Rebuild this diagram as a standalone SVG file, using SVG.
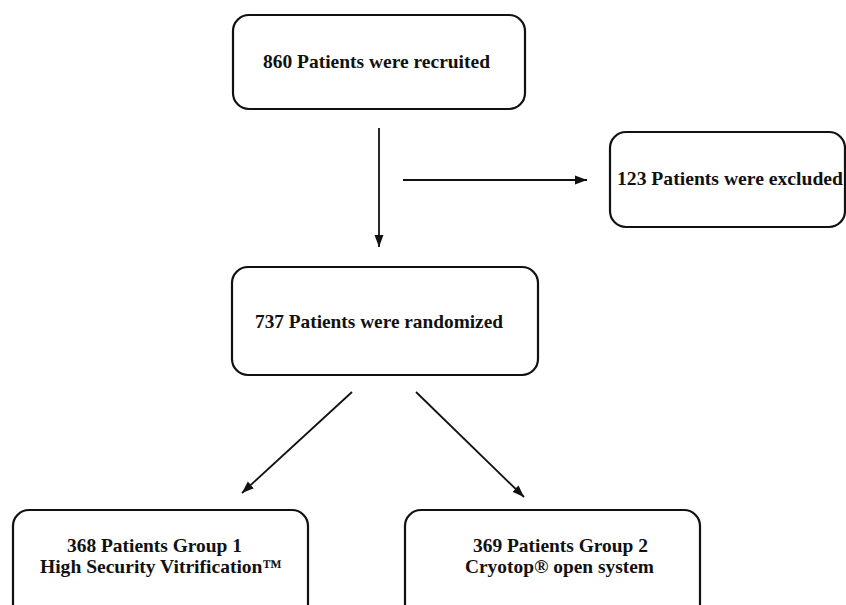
<svg xmlns="http://www.w3.org/2000/svg" width="846" height="605" viewBox="0 0 846 605">
<style>
.box{fill:#fff;stroke:#111;stroke-width:2.2}
.t{font-family:"Liberation Serif","Times New Roman",serif;font-weight:bold;font-size:19.5px;fill:#111}
.c{stroke:#111;stroke-width:1.8;fill:none}
</style>
<defs>
<marker id="ah" viewBox="0 0 12 10" refX="12" refY="5" markerWidth="12" markerHeight="10" markerUnits="userSpaceOnUse" orient="auto">
<path d="M0,0.5 L12,5 L0,9.5 Z" fill="#111"/>
</marker>
</defs>
<rect width="846" height="605" fill="#fff"/>
<g id="connectors">
<line class="c" x1="379" y1="128" x2="379" y2="247" marker-end="url(#ah)"/>
<line class="c" x1="403" y1="180" x2="587" y2="180" marker-end="url(#ah)"/>
<line class="c" x1="352" y1="392" x2="242" y2="493" marker-end="url(#ah)"/>
<line class="c" x1="416" y1="392" x2="524" y2="497" marker-end="url(#ah)"/>
</g>
<g id="recruited">
<rect class="box" x="233" y="15" width="292" height="94" rx="16"/>
<text class="t" x="263" y="68" textLength="227" lengthAdjust="spacingAndGlyphs">860 Patients were recruited</text>
</g>
<g id="excluded">
<rect class="box" x="610" y="132" width="235" height="95" rx="16"/>
<text class="t" x="617" y="185" textLength="226" lengthAdjust="spacingAndGlyphs">123 Patients were excluded</text>
</g>
<g id="randomized">
<rect class="box" x="232" y="267" width="306" height="108" rx="16"/>
<text class="t" x="255" y="328" textLength="248" lengthAdjust="spacingAndGlyphs">737 Patients were randomized</text>
</g>
<g id="group1">
<rect class="box" x="13" y="510" width="295" height="110" rx="16"/>
<text class="t" x="67" y="552" textLength="175" lengthAdjust="spacingAndGlyphs">368 Patients Group 1</text>
<text class="t" x="40" y="573" textLength="242" lengthAdjust="spacingAndGlyphs">High Security Vitrification™</text>
</g>
<g id="group2">
<rect class="box" x="405" y="510" width="295" height="110" rx="16"/>
<text class="t" x="473" y="552" textLength="175" lengthAdjust="spacingAndGlyphs">369 Patients Group 2</text>
<text class="t" x="465" y="573" textLength="189" lengthAdjust="spacingAndGlyphs">Cryotop® open system</text>
</g>
</svg>
